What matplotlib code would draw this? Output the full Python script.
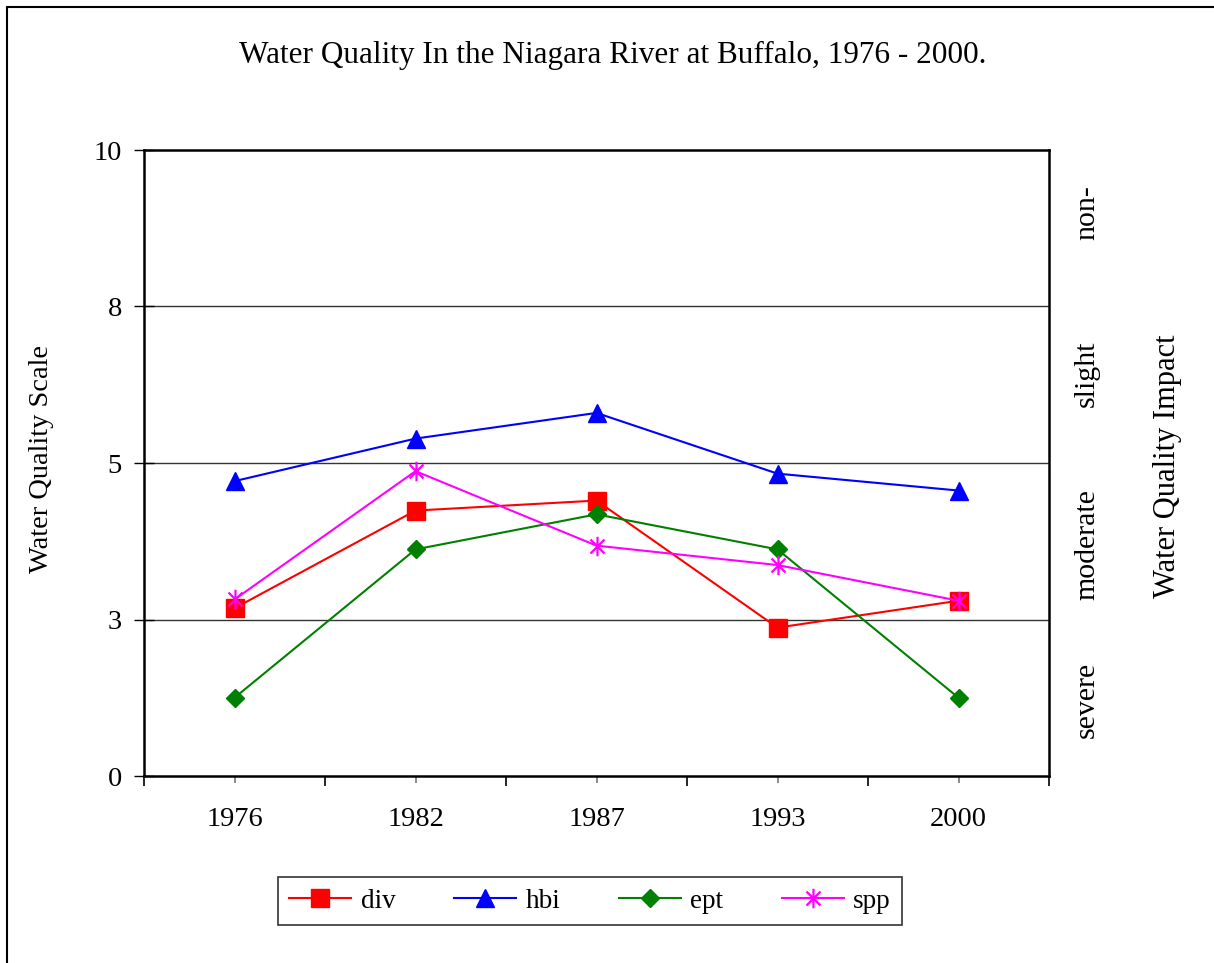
import matplotlib
matplotlib.use("Agg")
import matplotlib.pyplot as plt
from matplotlib.path import Path
from matplotlib.patches import Rectangle
from matplotlib.transforms import blended_transform_factory
from matplotlib.ticker import FixedLocator, FixedFormatter

plt.rcParams["font.family"] = ["Liberation Serif", "DejaVu Serif"]

# data (scale 0-10)
years = ["1976", "1982", "1987", "1993", "2000"]
div = [2.68, 4.24, 4.40, 2.37, 2.80]
hbi = [4.71, 5.39, 5.80, 4.83, 4.56]
ept = [1.25, 3.62, 4.18, 3.62, 1.25]
spp = [2.82, 4.87, 3.68, 3.37, 2.80]

ytick_vals = [0, 2.5, 5, 7.5, 10]
ytick_labels = ["0", "3", "5", "8", "10"]
impact_labels = ["severe", "moderate", "slight", "non-"]
impact_pos = [1.22, 3.7, 6.42, 9.0]

# excel style asterisk
star = Path(
    [(0, -1), (0, 1), (-0.72, -0.72), (0.72, 0.72), (-0.72, 0.72), (0.72, -0.72)],
    [Path.MOVETO, Path.LINETO, Path.MOVETO, Path.LINETO, Path.MOVETO, Path.LINETO],
)

fig = plt.figure(figsize=(12.14, 9.63), dpi=100)
ax = fig.add_axes([144 / 1214, 1 - 776 / 963, (1049 - 144) / 1214, (776 - 150) / 963])

# outer chart border (right/bottom run off the image)
fig.patches.append(Rectangle((7 / 1214, -0.05), 1.2, 1 - 7 / 963 + 0.05,
                             transform=fig.transFigure, fill=False,
                             edgecolor="black", linewidth=1.5))

x = list(range(len(years)))
ax.plot(x, div, color="#FF0000", lw=1.5, marker="s", ms=13, mec="#FF0000", label="div")
ax.plot(x, hbi, color="#0000FF", lw=1.5, marker="^", ms=13, mec="#0000FF", label="hbi")
ax.plot(x, ept, color="#008000", lw=1.5, marker="D", ms=9.5, mec="#008000", label="ept")
ax.plot(x, spp, color="#FF00FF", lw=1.5, marker=star, ms=14, mew=1.6,
        mec="#FF00FF", mfc="none", label="spp")

ax.set_xlim(-0.5, 4.5)
ax.set_ylim(0, 10)
ax.yaxis.set_major_locator(FixedLocator(ytick_vals))
ax.yaxis.set_major_formatter(FixedFormatter(ytick_labels))
ax.xaxis.set_major_locator(FixedLocator([i - 0.5 for i in range(len(years) + 1)]))
ax.xaxis.set_major_formatter(FixedFormatter([""] * (len(years) + 1)))
ax.xaxis.set_minor_locator(FixedLocator(x))
ax.xaxis.set_minor_formatter(FixedFormatter(years))

ax.tick_params(axis="y", which="major", direction="inout", length=14, width=1,
               labelsize=20.5, pad=9)
ax.tick_params(axis="x", which="major", direction="out", length=7, width=1.2)
ax.tick_params(axis="x", which="minor", direction="out", length=5, width=1.2,
               color="#777777", labelsize=20.5, pad=17)

for y in ytick_vals[1:-1]:
    ax.axhline(y, color="#333333", lw=1, zorder=0)
for s in ax.spines.values():
    s.set_linewidth(1.8)

fig.text(42 / 1214, 1 - 459 / 963, "Water Quality Scale", rotation=90,
         ha="center", va="center", fontsize=20.5)

tr = blended_transform_factory(fig.transFigure, ax.transData)
for lab, yp in zip(impact_labels, impact_pos):
    ax.text(1087 / 1214, yp, lab, transform=tr, rotation=90, ha="center",
            va="center", fontsize=21.5)
fig.text(1167 / 1214, 1 - 466 / 963, "Water Quality Impact", rotation=90,
         ha="center", va="center", fontsize=22)

fig.text(613 / 1214, 1 - 55 / 963, "Water Quality In the Niagara River at Buffalo, 1976 - 2000.",
         ha="center", va="center", fontsize=22.5)

leg = fig.legend(loc="center", bbox_to_anchor=(590 / 1214, 1 - 901 / 963), ncol=4,
                 fontsize=19.5, frameon=True, fancybox=False, edgecolor="black",
                 handlelength=2.3, handletextpad=0.35, columnspacing=2.15,
                 borderpad=0.42, borderaxespad=0)
leg.get_frame().set_linewidth(1.2)

fig.savefig("out.png", dpi=100)
